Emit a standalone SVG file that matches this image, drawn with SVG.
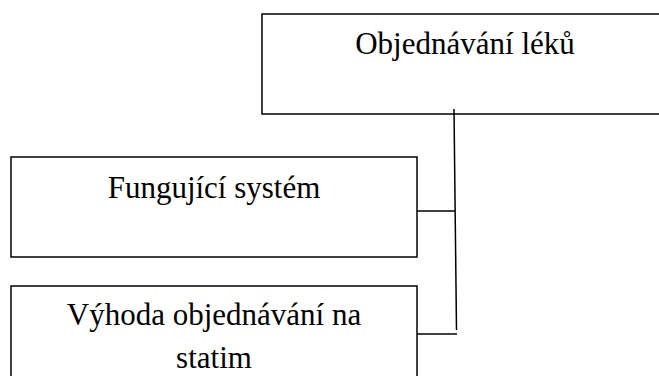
<svg xmlns="http://www.w3.org/2000/svg" width="659" height="376" viewBox="0 0 659 376">
<style>
.box{fill:#fff;stroke:#000;stroke-width:1.5}
.t{font-family:"Liberation Serif","Times New Roman",serif;font-size:31px;fill:#000;text-anchor:middle}
.c{stroke:#000;stroke-width:1.5;fill:none}
</style>
<rect width="659" height="376" fill="#fff"/>
<g id="node-objednavani">
<rect class="box" x="262" y="14" width="406" height="100"/>
<text class="t" x="465" y="54">Objednávání léků</text>
</g>
<g id="node-fungujici">
<rect class="box" x="11" y="157" width="406" height="100"/>
<text class="t" x="214" y="198">Fungující systém</text>
</g>
<g id="node-vyhoda">
<rect class="box" x="11" y="286" width="406" height="100"/>
<text class="t" x="214" y="325">Výhoda objednávání na</text>
<text class="t" x="214" y="368">statim</text>
</g>
<g id="connectors">
<line class="c" x1="454" y1="109" x2="456.5" y2="330"/>
<line class="c" x1="417" y1="211" x2="455" y2="211"/>
<line class="c" x1="417" y1="334" x2="457" y2="334"/>
</g>
</svg>
